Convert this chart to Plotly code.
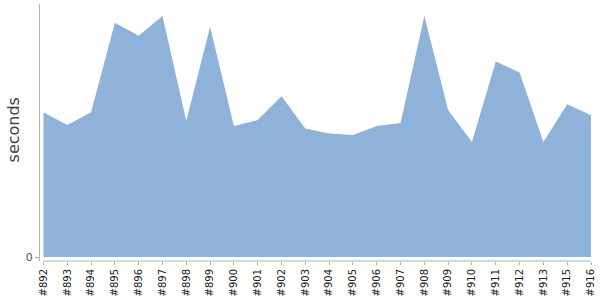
import plotly.graph_objects as go

builds = ["#892", "#893", "#894", "#895", "#896", "#897", "#898", "#899", "#900",
          "#901", "#902", "#903", "#904", "#905", "#906", "#907", "#908", "#909",
          "#910", "#911", "#912", "#913", "#915", "#916"]
seconds_vals = [146, 133, 146, 236, 223, 243, 137, 232, 132, 138, 162, 129.5,
                124.5, 123, 132, 135, 243, 148, 116, 197, 186, 116, 154, 143]
y_title = "seconds"

fig = go.Figure()
fig.add_trace(go.Scatter(
    x=builds, y=seconds_vals, mode="lines", fill="tozeroy",
    line=dict(width=0, color="#8FB2DA"), fillcolor="#8FB2DA",
    hoverinfo="x+y", showlegend=False,
))

fig.add_shape(type="line", xref="x", yref="paper", x0=builds[0], x1=builds[-1],
              y0=0, y1=0, line=dict(color="#B0B0B0", width=1))

fig.add_annotation(text=y_title, xref="paper", yref="paper", x=-0.049, y=0.508,
                   xanchor="center", yanchor="middle", textangle=-90, showarrow=False,
                   font=dict(family="DejaVu Sans", size=16, color="#444"))

fig.update_layout(
    width=600, height=300,
    margin=dict(l=40, r=9, t=4, b=37),
    paper_bgcolor="white", plot_bgcolor="white",
    font=dict(family="DejaVu Sans", color="#333"),
    xaxis=dict(
        type="category", range=[-0.145, len(builds) - 1],
        showgrid=False, zeroline=False, showline=False,
        ticks="outside", ticklen=3, tickcolor="#B0B0B0",
        tickangle=-90, tickfont=dict(size=10, color="#222"),
    ),
    yaxis=dict(
        range=[-4, 255], showgrid=False, zeroline=False,
        showline=True, linecolor="#B0B0B0", linewidth=1,
        tickvals=[0], ticktext=["0"], ticks="outside", ticklen=4,
        tickcolor="#B0B0B0", tickfont=dict(size=11, color="#555"),
    ),
)

fig.write_html("out.html")
